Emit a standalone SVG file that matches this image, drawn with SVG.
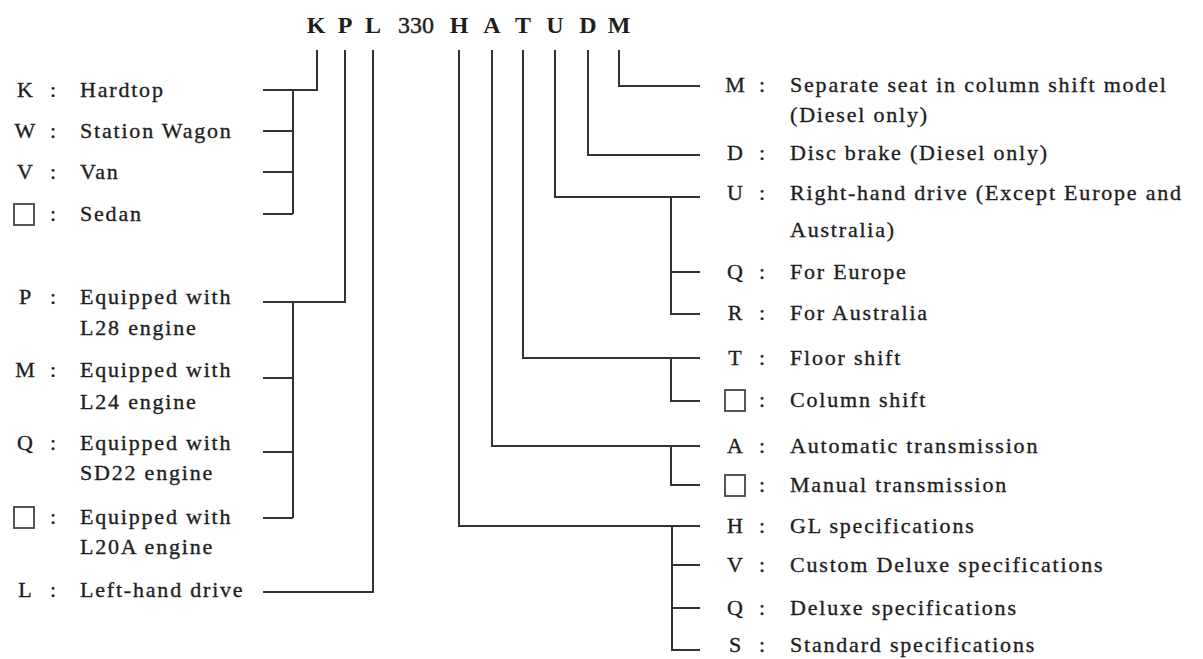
<svg xmlns="http://www.w3.org/2000/svg" width="1203" height="659" viewBox="0 0 1203 659">
<style>
text{font-family:"Liberation Serif","Times New Roman",serif;fill:#1e1e1e;stroke:#1e1e1e;stroke-width:0.35}
.t{font-size:22px;letter-spacing:1.8px}
.k{font-size:22px;text-anchor:middle}
.c{font-size:22px;text-anchor:middle}
.code{font-size:24px;font-weight:bold;text-anchor:middle;stroke-width:0}
.ln{fill:none;stroke:#333;stroke-width:2}
.bx{fill:none;stroke:#444;stroke-width:1.8}
</style>
<rect width="1203" height="659" fill="#fff"/>
<g id="code">
<text class="code" x="316" y="33">K</text>
<text class="code" x="345" y="33">P</text>
<text class="code" x="373" y="33">L</text>
<text class="code" x="416" y="33" style="font-weight:normal;stroke-width:0.4">330</text>
<text class="code" x="459" y="33">H</text>
<text class="code" x="492" y="33">A</text>
<text class="code" x="523" y="33">T</text>
<text class="code" x="555" y="33">U</text>
<text class="code" x="588" y="33">D</text>
<text class="code" x="619" y="33">M</text>
</g>
<g id="connectors" class="ln">
<polyline points="317,50 317,90 293,90"/>
<line x1="293" y1="90" x2="293" y2="214"/>
<line x1="263" y1="90" x2="293" y2="90"/>
<line x1="263" y1="131" x2="293" y2="131"/>
<line x1="263" y1="172" x2="293" y2="172"/>
<line x1="263" y1="214" x2="293" y2="214"/>
<polyline points="345,50 345,302 293,302"/>
<line x1="293" y1="302" x2="293" y2="518"/>
<line x1="263" y1="302" x2="293" y2="302"/>
<line x1="263" y1="378" x2="293" y2="378"/>
<line x1="263" y1="452" x2="293" y2="452"/>
<line x1="263" y1="518" x2="293" y2="518"/>
<polyline points="373,50 373,592 263,592"/>
<polyline points="619,50 619,86 700,86"/>
<polyline points="588,50 588,155 700,155"/>
<polyline points="555,50 555,197 700,197"/>
<polyline points="671,197 671,314 700,314"/>
<line x1="671" y1="272" x2="700" y2="272"/>
<polyline points="523,50 523,358 700,358"/>
<polyline points="671,358 671,401 700,401"/>
<polyline points="492,50 492,446 700,446"/>
<polyline points="671,446 671,485 700,485"/>
<polyline points="459,50 459,526 700,526"/>
<polyline points="672,526 672,650 700,650"/>
<line x1="672" y1="565" x2="700" y2="565"/>
<line x1="672" y1="608" x2="700" y2="608"/>
</g>
<g id="n-K"><text class="k" x="25" y="97">K</text><text class="c" x="53" y="97">:</text><text class="t" x="80" y="97">Hardtop</text></g>
<g id="n-W"><text class="k" x="25" y="138">W</text><text class="c" x="53" y="138">:</text><text class="t" x="80" y="138">Station Wagon</text></g>
<g id="n-V"><text class="k" x="25" y="179">V</text><text class="c" x="53" y="179">:</text><text class="t" x="80" y="179">Van</text></g>
<g id="n-sedan"><rect class="bx" x="14" y="204" width="20" height="21"/><text class="c" x="53" y="221">:</text><text class="t" x="80" y="221">Sedan</text></g>
<g id="n-P"><text class="k" x="25" y="304">P</text><text class="c" x="53" y="304">:</text><text class="t" x="80" y="304">Equipped with</text><text class="t" x="80" y="335">L28 engine</text></g>
<g id="n-M"><text class="k" x="25" y="377">M</text><text class="c" x="53" y="377">:</text><text class="t" x="80" y="377">Equipped with</text><text class="t" x="80" y="409">L24 engine</text></g>
<g id="n-Q"><text class="k" x="25" y="450">Q</text><text class="c" x="53" y="450">:</text><text class="t" x="80" y="450">Equipped with</text><text class="t" x="80" y="480">SD22 engine</text></g>
<g id="n-L20A"><rect class="bx" x="14" y="507" width="20" height="21"/><text class="c" x="53" y="524">:</text><text class="t" x="80" y="524">Equipped with</text><text class="t" x="80" y="554">L20A engine</text></g>
<g id="n-L"><text class="k" x="25" y="597">L</text><text class="c" x="53" y="597">:</text><text class="t" x="80" y="597">Left-hand drive</text></g>
<g id="r-M"><text class="k" x="735" y="92">M</text><text class="c" x="762" y="92">:</text><text class="t" x="790" y="92">Separate seat in column shift model</text><text class="t" x="790" y="122">(Diesel only)</text></g>
<g id="r-D"><text class="k" x="735" y="160">D</text><text class="c" x="762" y="160">:</text><text class="t" x="790" y="160">Disc brake (Diesel only)</text></g>
<g id="r-U"><text class="k" x="735" y="200">U</text><text class="c" x="762" y="200">:</text><text class="t" x="790" y="200">Right-hand drive (Except Europe and</text><text class="t" x="790" y="237">Australia)</text></g>
<g id="r-Q"><text class="k" x="735" y="279">Q</text><text class="c" x="762" y="279">:</text><text class="t" x="790" y="279">For Europe</text></g>
<g id="r-R"><text class="k" x="735" y="320">R</text><text class="c" x="762" y="320">:</text><text class="t" x="790" y="320">For Australia</text></g>
<g id="r-T"><text class="k" x="735" y="365">T</text><text class="c" x="762" y="365">:</text><text class="t" x="790" y="365">Floor shift</text></g>
<g id="r-col"><rect class="bx" x="725" y="390" width="20" height="21"/><text class="c" x="762" y="407">:</text><text class="t" x="790" y="407">Column shift</text></g>
<g id="r-A"><text class="k" x="735" y="453">A</text><text class="c" x="762" y="453">:</text><text class="t" x="790" y="453">Automatic transmission</text></g>
<g id="r-man"><rect class="bx" x="725" y="475" width="20" height="21"/><text class="c" x="762" y="492">:</text><text class="t" x="790" y="492">Manual transmission</text></g>
<g id="r-H"><text class="k" x="735" y="533">H</text><text class="c" x="762" y="533">:</text><text class="t" x="790" y="533">GL specifications</text></g>
<g id="r-V"><text class="k" x="735" y="572">V</text><text class="c" x="762" y="572">:</text><text class="t" x="790" y="572">Custom Deluxe specifications</text></g>
<g id="r-Q2"><text class="k" x="735" y="615">Q</text><text class="c" x="762" y="615">:</text><text class="t" x="790" y="615">Deluxe specifications</text></g>
<g id="r-S"><text class="k" x="735" y="652">S</text><text class="c" x="762" y="652">:</text><text class="t" x="790" y="652">Standard specifications</text></g>
</svg>
